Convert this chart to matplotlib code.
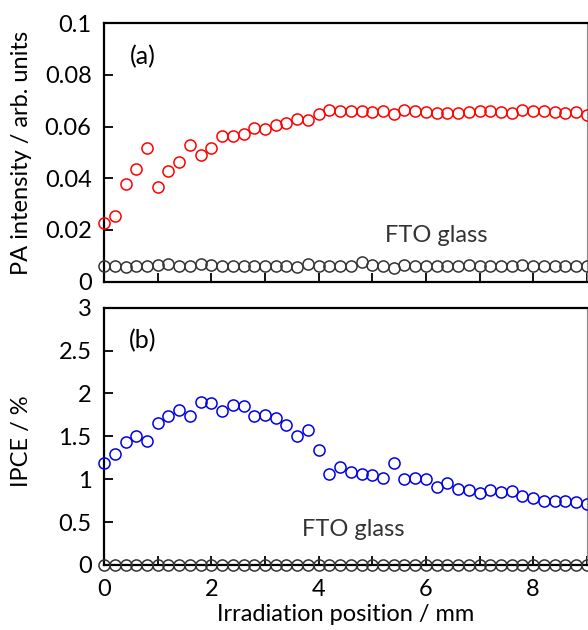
import matplotlib
matplotlib.use('Agg')
import matplotlib.pyplot as plt
import numpy as np

plt.rcParams['font.family'] = ['Lato', 'DejaVu Sans']

# irradiation positions, 0.2 mm step
position = [round(0.2 * i, 1) for i in range(46)]

# (a) PA intensity
pa_sample = [0.0226, 0.0253, 0.0378, 0.0435, 0.0516, 0.0366, 0.0430, 0.0463, 0.0528, 0.0489,
             0.0519, 0.0565, 0.0565, 0.0572, 0.0596, 0.0591, 0.0606, 0.0615, 0.0630, 0.0626,
             0.0649, 0.0664, 0.0662, 0.0662, 0.0662, 0.0656, 0.0662, 0.0649, 0.0664, 0.0660,
             0.0658, 0.0654, 0.0652, 0.0654, 0.0658, 0.0662, 0.0662, 0.0658, 0.0654, 0.0664,
             0.0662, 0.0662, 0.0658, 0.0654, 0.0658, 0.0645]
pa_fto = [0.0062, 0.0060, 0.0056, 0.0062, 0.0062, 0.0064, 0.0067, 0.0062, 0.0062, 0.0067,
          0.0066, 0.0062, 0.0062, 0.0062, 0.0062, 0.0062, 0.0062, 0.0062, 0.0056, 0.0068,
          0.0062, 0.0062, 0.0062, 0.0062, 0.0075, 0.0066, 0.0062, 0.0054, 0.0064, 0.0062,
          0.0062, 0.0062, 0.0060, 0.0062, 0.0064, 0.0062, 0.0062, 0.0062, 0.0062, 0.0066,
          0.0062, 0.0062, 0.0062, 0.0060, 0.0062, 0.0062]

# (b) IPCE
ipce_sample = [1.19, 1.29, 1.43, 1.50, 1.45, 1.66, 1.74, 1.81, 1.74, 1.90,
               1.89, 1.80, 1.87, 1.85, 1.74, 1.75, 1.71, 1.63, 1.50, 1.57,
               1.34, 1.06, 1.14, 1.08, 1.06, 1.05, 1.02, 1.19, 1.00, 1.01,
               1.00, 0.91, 0.96, 0.89, 0.87, 0.84, 0.87, 0.85, 0.86, 0.80,
               0.78, 0.75, 0.75, 0.75, 0.74, 0.71]
ipce_fto = [0.0] * 46

fig = plt.figure(figsize=(5.88, 6.3), dpi=100)
ax1 = fig.add_axes([0.177, 0.553, 0.821, 0.410])
ax2 = fig.add_axes([0.177, 0.1032, 0.821, 0.4084])

mk = dict(marker='o', linestyle='none', markersize=8.0, markeredgewidth=1.1,
          markerfacecolor='none', clip_on=False)

ax1.plot(position, pa_sample, markeredgecolor='#ff0000', zorder=3, **mk)
ax1.plot(position, pa_fto, markeredgecolor='#333333', zorder=3, **mk)
ax2.plot(position, ipce_sample, markeredgecolor='#0000e6', zorder=3, **mk)
ax2.plot(position, ipce_fto, markeredgecolor='#333333', zorder=3, **mk)

ax1.set_ylim(0, 0.1)
ax1.set_yticks([0, 0.02, 0.04, 0.06, 0.08, 0.1])
ax1.set_yticklabels(['0', '0.02', '0.04', '0.06', '0.08', '0.1'])
ax2.set_ylim(0, 3)
ax2.set_yticks([0, 0.5, 1, 1.5, 2, 2.5, 3])
ax2.set_yticklabels(['0', '0.5', '1', '1.5', '2', '2.5', '3'])

for ax in (ax1, ax2):
    ax.set_xlim(0, 9)
    ax.set_xticks(range(0, 10))
    ax.tick_params(direction='in', length=6.5, width=1.3, labelsize=17,
                   colors='black')
    ax.tick_params(axis='y', pad=9)
    ax.tick_params(axis='x', pad=10)
    for s in ('left', 'bottom', 'top'):
        ax.spines[s].set_linewidth(1.6)
    ax.spines['right'].set_linewidth(0.8)
    ax.spines['right'].set_color('#888888')

ax1.tick_params(axis='x', labelbottom=False)
ax2.set_xticklabels(['0', '', '2', '', '4', '', '6', '', '8', ''])

ax1.set_ylabel('PA intensity / arb. units', fontsize=17)
ax2.set_ylabel('IPCE / %', fontsize=17)
ax2.set_xlabel('Irradiation position / mm', fontsize=17)
ax1.yaxis.set_label_coords(-0.15, 0.5)
ax2.yaxis.set_label_coords(-0.15, 0.48)
ax2.xaxis.set_label_coords(0.5, -0.15)

ax1.text(0.08, 0.87, '(a)', transform=ax1.transAxes, fontsize=18, ha='center', va='center')
ax2.text(0.08, 0.87, '(b)', transform=ax2.transAxes, fontsize=18, ha='center', va='center')
ax1.text(6.2, 0.0180, 'FTO glass', fontsize=17, ha='center', va='center', color='#333333')
ax2.text(4.65, 0.41, 'FTO glass', fontsize=17, ha='center', va='center', color='#333333')

fig.savefig('out.png', dpi=100, facecolor='white')
